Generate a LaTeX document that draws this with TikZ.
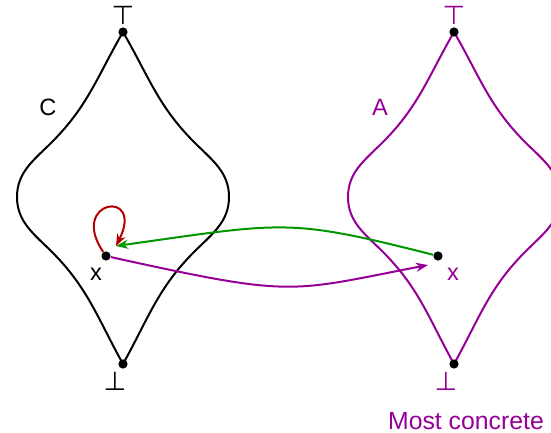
\documentclass[tikz,border=0pt]{standalone}
\usepackage{fontspec}
\setmainfont{Liberation Sans}
\newfontfamily\bndfont{DejaVu Sans}
\usepackage{xcolor}
\usetikzlibrary{arrows.meta}

\definecolor{absviolet}{RGB}{150,0,150}
\definecolor{fixgreen}{RGB}{0,150,0}
\definecolor{loopred}{RGB}{180,0,0}

\begin{document}
\begin{tikzpicture}[
  x=0.5pt, y=-0.5pt,
  dot/.style    = {circle, fill=black, inner sep=0pt, minimum size=4.6pt},
  lbl/.style    = {font=\fontsize{11.8}{14}\selectfont, inner sep=0pt},
  bnd/.style    = {font=\fontsize{13}{15}\bndfont, inner sep=0pt},
  lattice/.style = {line width=1pt},
  arr/.style    = {-{Stealth[length=6pt, width=4.5pt]}, line width=1pt},
]
\clip (0,0) rectangle (551,433);

%% ── Lattice outlines ─────────────────────────────────────────────────────
\foreach \dx/\col in {0/black, 331/absviolet}{
  \draw[lattice, \col, shift={(\dx,0)}]
    (123,32) .. controls (97.5,76) and (88,106) .. (52,142)
             .. controls (34,160) and (17,172) .. (17,197)
             .. controls (17,222) and (34,234) .. (52,252)
             .. controls (88,288) and (97.5,318) .. (123,364)
             .. controls (148.5,318) and (158,288) .. (194,252)
             .. controls (212,234) and (229,222) .. (229,197)
             .. controls (229,172) and (212,160) .. (194,142)
             .. controls (158,106) and (148.5,76) .. (123,32) -- cycle;
}

%% ── Points ───────────────────────────────────────────────────────────────
\node[dot] (ctop) at (123,32)  {};
\node[dot] (cbot) at (123,364) {};
\node[dot] (cx)   at (106,256) {};
\node[dot] (atop) at (454,32)  {};
\node[dot] (abot) at (454,364) {};
\node[dot] (ax)   at (438,256) {};
\coordinate (cin) at (116,246);
\coordinate (ain) at (428,265);

%% ── Labels ───────────────────────────────────────────────────────────────
\node[bnd]                  (ctoplbl) at (123,15)  {⊤};
\node[bnd]                  (cbotlbl) at (115,381) {⊥};
\node[lbl]                  (clbl)    at (48,107)  {C};
\node[lbl]                  (cxlbl)   at (96,274)  {x};
\node[bnd, text=absviolet]  (atoplbl) at (454,15)  {⊤};
\node[bnd, text=absviolet]  (abotlbl) at (446,381) {⊥};
\node[lbl, text=absviolet]  (albl)    at (380,107) {A};
\node[lbl, text=absviolet]  (axlbl)   at (453,274) {x};
\node[lbl, text=absviolet, font=\fontsize{12.4}{14}\selectfont]
                            (note)    at (466,421) {Most concrete};

%% ── Maps ─────────────────────────────────────────────────────────────────
\draw[arr, fixgreen]   (ax) .. controls (288,218) and (286,222) .. (cin);
\draw[arr, absviolet]  (cx) .. controls (296,298) and (288,292) .. (ain);
\draw[arr, loopred]    (cx) .. controls (68,200) and (145,188) .. (cin);

\end{tikzpicture}
\end{document}
